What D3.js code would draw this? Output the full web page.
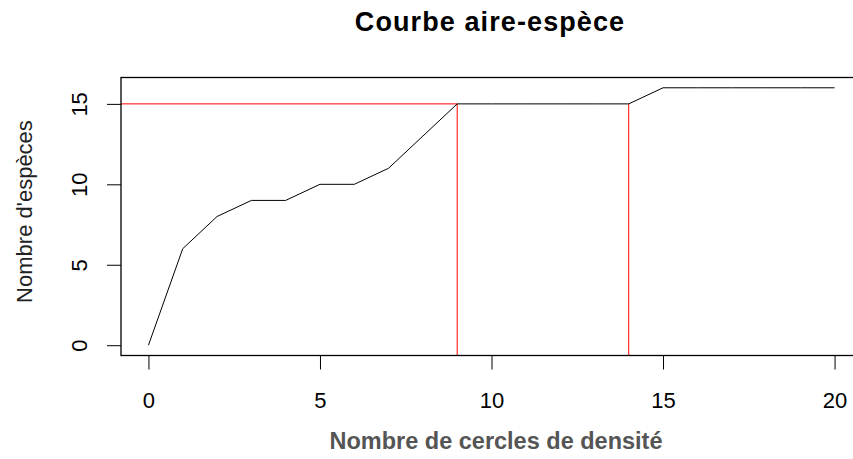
<!DOCTYPE html>
<html>
<head>
<meta charset="utf-8">
<script src="https://cdn.jsdelivr.net/npm/d3@7"></script>
<style>
  body { margin: 0; background: #fff; }
  svg text { font-family: "Liberation Sans", Arial, sans-serif; }
</style>
</head>
<body>
<script>
// nombre de cercles et nombre d'especes cumulees
const cercles = [0, 1, 2, 3, 4, 5, 6, 7, 8, 9, 10, 11, 12, 13, 14, 15, 16, 17, 18, 19, 20];
const especes = [0, 6, 8, 9, 9, 10, 10, 11, 13, 15, 15, 15, 15, 15, 15, 16, 16, 16, 16, 16, 16];
const xTicks = [0, 5, 10, 15, 20];
const yTicks = [0, 5, 10, 15];
const seuil = 15;
const reperes = [9, 14];

const width = 853, height = 459;

const svg = d3.select("body").append("svg")
    .attr("width", width)
    .attr("height", height);

// comme R : etendue elargie de 4%
const x = d3.scaleLinear().domain([-0.8, 20.8]).range([121, 862]);
const y = d3.scaleLinear().domain([-0.64, 16.64]).range([355.5, 77.5]);

// lignes rouges de repere
svg.append("line")
    .attr("x1", x.range()[0]).attr("x2", x(reperes[0]))
    .attr("y1", y(seuil)).attr("y2", y(seuil))
    .attr("stroke", "#ff0000").attr("stroke-width", 1);

reperes.forEach(r => {
    svg.append("line")
        .attr("x1", x(r)).attr("x2", x(r))
        .attr("y1", y(seuil)).attr("y2", y.range()[0])
        .attr("stroke", "#ff0000").attr("stroke-width", 1);
});

// la courbe
const line = d3.line()
    .x((d, i) => x(cercles[i]))
    .y(d => y(d));

svg.append("path")
    .datum(especes)
    .attr("d", line)
    .attr("fill", "none")
    .attr("stroke", "#000")
    .attr("stroke-width", 1);

// cadre
svg.append("rect")
    .attr("x", x.range()[0]).attr("y", y.range()[1])
    .attr("width", x.range()[1] - x.range()[0])
    .attr("height", y.range()[0] - y.range()[1])
    .attr("fill", "none").attr("stroke", "#000").attr("stroke-width", 1.3);

// axe x
const xAxis = svg.append("g")
    .attr("transform", `translate(0,${y.range()[0]})`)
    .call(d3.axisBottom(x).tickValues(xTicks).tickSize(14).tickFormat(d3.format("d")));
xAxis.select(".domain").remove();
xAxis.selectAll("line").attr("stroke", "#000");
xAxis.selectAll("text")
    .attr("font-size", 22).attr("fill", "#000")
    .attr("font-family", "Liberation Sans, Arial, sans-serif")
    .attr("y", 52.5).attr("dy", null);

// axe y
const yAxis = svg.append("g")
    .attr("transform", `translate(${x.range()[0]},0)`)
    .call(d3.axisLeft(y).tickValues(yTicks).tickSize(14).tickFormat(d3.format("d")));
yAxis.select(".domain").remove();
yAxis.selectAll("line").attr("stroke", "#000");
yAxis.selectAll("text")
    .attr("font-size", 22).attr("fill", "#000")
    .attr("font-family", "Liberation Sans, Arial, sans-serif")
    .attr("x", null).attr("dy", null)
    .attr("text-anchor", "middle")
    .attr("transform", "translate(-34,0) rotate(-90)");

// titres
svg.append("text")
    .attr("x", 490).attr("y", 31)
    .attr("text-anchor", "middle")
    .attr("font-size", 27).attr("font-weight", "bold")
    .attr("letter-spacing", 1.1)
    .text("Courbe aire-espèce");

svg.append("text")
    .attr("x", 496).attr("y", 449)
    .attr("text-anchor", "middle")
    .attr("font-size", 23.5).attr("font-weight", "bold")
    .attr("fill", "#555")
    .text("Nombre de cercles de densité");

svg.append("text")
    .attr("transform", `translate(32,${(y.range()[0] + y.range()[1]) / 2 - 5}) rotate(-90)`)
    .attr("text-anchor", "middle")
    .attr("font-size", 22)
    .attr("fill", "#222")
    .text("Nombre d'espèces");
</script>
</body>
</html>
